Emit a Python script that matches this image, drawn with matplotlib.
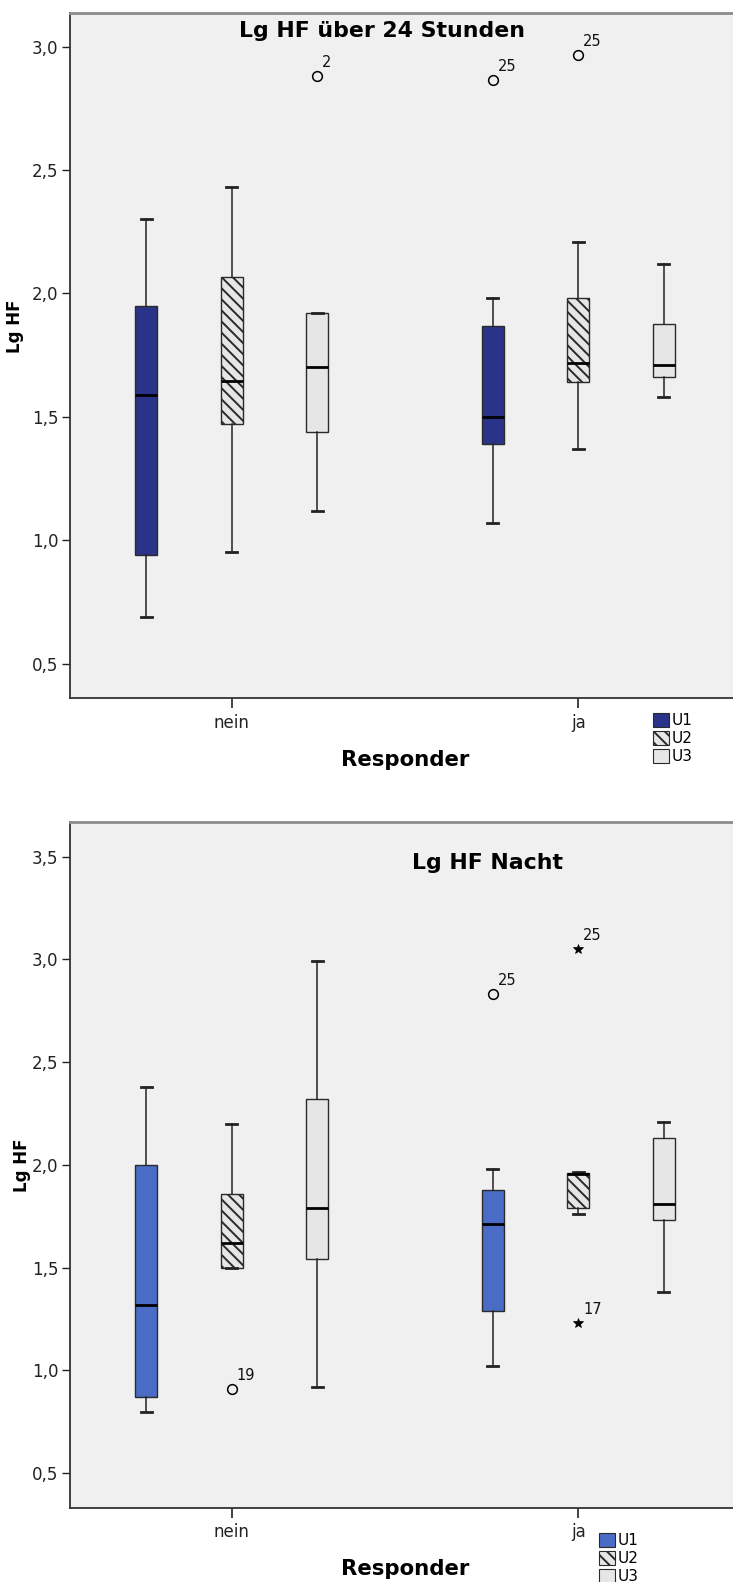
import matplotlib
matplotlib.use("Agg")
import matplotlib.pyplot as plt
from matplotlib.patches import Patch

plt.rcParams["font.family"] = ["DejaVu Sans"]
plt.rcParams["hatch.linewidth"] = 1.4

groups = ["nein", "ja"]
series = ["U1", "U2", "U3"]

# Lg HF über 24 Stunden: five-number summaries per series, one value per group
day_lo = {"U1": [0.69, 1.07], "U2": [0.95, 1.37], "U3": [1.12, 1.58]}
day_q1 = {"U1": [0.94, 1.39], "U2": [1.47, 1.64], "U3": [1.44, 1.66]}
day_med = {"U1": [1.59, 1.50], "U2": [1.645, 1.72], "U3": [1.70, 1.71]}
day_q3 = {"U1": [1.95, 1.87], "U2": [2.065, 1.98], "U3": [1.92, 1.875]}
day_hi = {"U1": [2.30, 1.98], "U2": [2.43, 2.21], "U3": [1.92, 2.12]}
# outliers: (series, group, value, case label, marker)
day_out = [("U3", "nein", 2.88, "2", "o"),
           ("U1", "ja", 2.865, "25", "o"),
           ("U2", "ja", 2.965, "25", "o")]

# Lg HF Nacht
night_lo = {"U1": [0.80, 1.02], "U2": [1.50, 1.76], "U3": [0.92, 1.38]}
night_q1 = {"U1": [0.87, 1.29], "U2": [1.50, 1.79], "U3": [1.54, 1.73]}
night_med = {"U1": [1.32, 1.71], "U2": [1.62, 1.955], "U3": [1.79, 1.81]}
night_q3 = {"U1": [2.00, 1.88], "U2": [1.86, 1.96], "U3": [2.32, 2.13]}
night_hi = {"U1": [2.38, 1.98], "U2": [2.20, 1.965], "U3": [2.99, 2.21]}
night_out = [("U2", "nein", 0.91, "19", "o"),
             ("U1", "ja", 2.83, "25", "o"),
             ("U2", "ja", 3.05, "25", "*"),
             ("U2", "ja", 1.23, "17", "*")]

day_yticks = [0.5, 1.0, 1.5, 2.0, 2.5, 3.0]
day_yticklabels = ["0,5", "1,0", "1,5", "2,0", "2,5", "3,0"]
night_yticks = [0.5, 1.0, 1.5, 2.0, 2.5, 3.0, 3.5]
night_yticklabels = ["0,5", "1,0", "1,5", "2,0", "2,5", "3,0", "3,5"]

W, H = 733, 1582
fig = plt.figure(figsize=(W / 100, H / 100), dpi=100)
fig.patch.set_facecolor("white")

offsets = {"U1": -0.247, "U2": 0.0, "U3": 0.247}
box_w = 0.064
light = "#e6e6e6"
edge = "#2a2a2a"


def draw_panel(rect, title, title_xy, lo, q1, med, q3, hi, outliers,
               ylim, yticks, yticklabels, u1_color, hatch, ylabel_y, ylabel_x,
               legend_xy):
    ax = fig.add_axes(rect)
    ax.set_facecolor("#f0f0f0")
    fills = {"U1": (u1_color, None), "U2": (light, hatch), "U3": (light, None)}
    for s in series:
        stats = []
        for gi, g in enumerate(groups):
            stats.append(dict(whislo=lo[s][gi], q1=q1[s][gi], med=med[s][gi],
                              q3=q3[s][gi], whishi=hi[s][gi], fliers=[]))
        pos = [gi + offsets[s] for gi in range(len(groups))]
        fc, ht = fills[s]
        bp = ax.bxp(stats, positions=pos, widths=box_w, patch_artist=True,
                    showfliers=False,
                    boxprops=dict(facecolor=fc, edgecolor=edge, linewidth=1.0),
                    medianprops=dict(color="black", linewidth=2.0),
                    whiskerprops=dict(color="#222222", linewidth=1.1),
                    capprops=dict(color="#222222", linewidth=2.0))
        for b in bp["boxes"]:
            if ht:
                b.set_hatch(ht)
    for s, g, v, lab, m in outliers:
        x = groups.index(g) + offsets[s]
        if m == "o":
            ax.plot([x], [v], marker="o", ms=7, mfc="none", mec="black",
                    mew=1.1, ls="none")
        else:
            ax.plot([x], [v], marker="*", ms=7, mfc="black", mec="black",
                    mew=0.5, ls="none")
        ax.annotate(lab, (x, v), xytext=(3.5, 4.5), textcoords="offset points",
                    ha="left", va="bottom", fontsize=10.5, color="#111111")

    ax.set_xlim(-0.467, 1.467)
    ax.set_ylim(*ylim)
    ax.set_xticks(range(len(groups)))
    ax.set_xticklabels(groups, fontsize=12)
    ax.set_yticks(yticks)
    ax.set_yticklabels(yticklabels, fontsize=12)
    ax.tick_params(axis="y", length=6, width=1.0, pad=2.5, colors="#222222")
    ax.tick_params(axis="x", length=7, width=1.2, pad=4, colors="#222222")
    for sp in ("left", "bottom"):
        ax.spines[sp].set_color("#333333")
        ax.spines[sp].set_linewidth(1.3)
    ax.spines["top"].set_color("#8c8c8c")
    ax.spines["top"].set_linewidth(2.0)
    ax.spines["right"].set_visible(False)

    ax.set_ylabel("Lg HF", fontsize=12, fontweight="bold")
    ax.yaxis.set_label_coords(ylabel_x, ylabel_y)
    ax.set_xlabel("Responder", fontsize=15.3, fontweight="bold", labelpad=13)

    fig.text(title_xy[0] / W, 1 - title_xy[1] / H, title, fontsize=15.8,
             fontweight="bold", ha="center", va="center")

    handles = [Patch(facecolor=u1_color, edgecolor=edge, linewidth=0.8),
               Patch(facecolor=light, edgecolor=edge, hatch=hatch, linewidth=0.8),
               Patch(facecolor=light, edgecolor=edge, linewidth=0.8)]
    fig.legend(handles, series, loc="upper left",
               bbox_to_anchor=(legend_xy[0] / W, 1 - legend_xy[1] / H),
               frameon=False, fontsize=11, handlelength=1.05,
               handleheight=1.0, handletextpad=0.15, labelspacing=0.2,
               borderpad=0, borderaxespad=0)
    return ax


# axes rectangles from pixel extents (left, top, right, bottom)
def rect_px(l, t, r, b):
    return [l / W, 1 - b / H, (r - l) / W, (b - t) / H]


draw_panel(rect_px(70, 12.7, 740, 698.3), "Lg HF über 24 Stunden", (382, 31),
           day_lo, day_q1, day_med, day_q3, day_hi, day_out,
           (0.359, 3.138), day_yticks, day_yticklabels, "#29338a", "\\\\\\",
           0.542, -0.068, (653, 713))

draw_panel(rect_px(70, 822.3, 740, 1507.7), "Lg HF Nacht", (487, 863),
           night_lo, night_q1, night_med, night_q3, night_hi, night_out,
           (0.332, 3.667), night_yticks, night_yticklabels, "#4a6cc6", "\\\\\\",
           0.50, -0.058, (599, 1533))

fig.savefig("out.png", dpi=100, facecolor="white")
